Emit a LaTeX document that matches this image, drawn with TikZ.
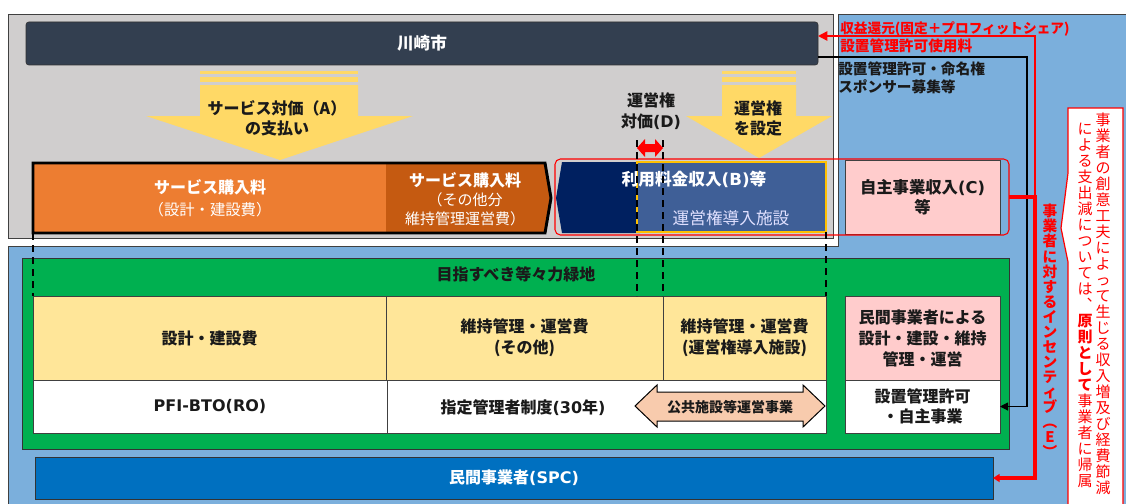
\documentclass[tikz,border=0pt]{standalone}
\usepackage{fontspec}
\setmainfont{Noto Sans CJK JP}
\newfontfamily\lat{DejaVu Sans}
\usetikzlibrary{arrows.meta}
\definecolor{graybg}{HTML}{D0CECE}
\definecolor{bluebg}{HTML}{7BAFDC}
\definecolor{citycol}{HTML}{333F50}
\definecolor{ylwarrow}{HTML}{FFD966}
\definecolor{orgL}{HTML}{ED7D31}
\definecolor{orgD}{HTML}{C55A11}
\definecolor{navyc}{HTML}{002060}
\definecolor{bboxc}{HTML}{3F5F97}
\definecolor{goldc}{HTML}{FFC000}
\definecolor{pinkc}{HTML}{FFCCCC}
\definecolor{greenc}{HTML}{00B050}
\definecolor{cellY}{HTML}{FFE699}
\definecolor{peach}{HTML}{F8CBAD}
\definecolor{spcblue}{HTML}{0070C0}
\definecolor{linegray}{HTML}{404040}
\definecolor{txt}{HTML}{1A1A1A}
\definecolor{redc}{HTML}{FF0000}
\newcommand\pxbox[7]{\node[#2, minimum width={(#5-#3)*0.75pt}, minimum height={(#6-#4)*0.75pt}, anchor=north west] (#1) at (#3,#4) {#7};}
\tikzset{
  bx/.style={inner sep=0pt, outer sep=0pt, align=center},
  tb/.style={font=\fontsize{12pt}{15.75pt}\selectfont\bfseries},
  cellbox/.style={bx, draw=linegray, line width=0.75pt, text=txt, tb},
  dashv/.style={draw=black, line width=1.5pt, dash pattern=on 5.5pt off 3.5pt},
  vcol/.style={align=center, inner sep=0pt, anchor=north, text=redc},
}
\begin{document}
\begin{tikzpicture}[x=0.75pt,y=-0.75pt]
\useasboundingbox (0,0) rectangle (1126,503);
% backgrounds
\draw[linegray, line width=0.75pt, fill=graybg] (8,15) rectangle (833,238);
\fill[bluebg] (838,15) -- (1140,15) -- (1140,520) -- (8,520) -- (8,246) -- (838,246) -- cycle;
\draw[linegray, line width=0.75pt] (1140,15) -- (838,15) -- (838,246) -- (8,246) -- (8,520);
% city bar
\pxbox{city}{bx, fill=citycol, draw=black!80, rounded corners=2pt, text=white, font=\fontsize{12.5pt}{14pt}\selectfont\bfseries}{26}{22}{818}{65}{川崎市}
% yellow arrow A
\fill[ylwarrow] (200,71) rectangle (358,73.5);
\fill[ylwarrow] (200,77) rectangle (358,82);
\fill[ylwarrow] (200,85) -- (358,85) -- (358,116) -- (413,116) -- (280,160) -- (146,116) -- (200,116) -- cycle;
\node[bx, text=txt, font=\fontsize{12pt}{15pt}\selectfont\bfseries] (payA) at (277,118) {サービス対価（A）\\の支払い};
% yellow arrow right
\fill[ylwarrow] (722,71) rectangle (796,73.5);
\fill[ylwarrow] (722,77) rectangle (796,82);
\fill[ylwarrow] (722,85) -- (796,85) -- (796,116) -- (832,116) -- (759,158) -- (686,116) -- (722,116) -- cycle;
\node[bx, text=txt, font=\fontsize{12pt}{15pt}\selectfont\bfseries] (setR) at (758,118) {運営権\\を設定};
% D label and arrow
\node[bx, text=txt, font=\fontsize{12pt}{15.5pt}\selectfont\bfseries] (labD) at (651,111) {運営権\\対価{\lat(D)}};
\fill[redc] (637,148) -- (645,139) -- (645,144) -- (655,144) -- (655,139) -- (663,148) -- (655,157) -- (655,152) -- (645,152) -- (645,157) -- cycle;
% orange bar
\fill[orgL] (33,163) rectangle (386,233);
\fill[orgD] (386,163) -- (545,163) -- (551,198) -- (545,233) -- (386,233) -- cycle;
\draw[black, line width=2.2pt, line join=miter] (33,163) -- (545,163) -- (551,198) -- (545,233) -- (33,233) -- cycle;
\node[bx, text=white, font=\fontsize{11.5pt}{16.5pt}\selectfont] (buyA) at (210,198) {{\fontsize{12pt}{16.5pt}\selectfont\bfseries サービス購入料}\\（設計・建設費）};
\node[bx, text=white, font=\fontsize{11.25pt}{14.25pt}\selectfont] (buyB) at (465,199) {{\fontsize{12pt}{14.25pt}\selectfont\bfseries サービス購入料}\\（その他分\\維持管理運営費）};
% navy chevron and B box
\fill[navyc] (562,162) -- (640,162) -- (640,233) -- (562,233) -- (556,198) -- cycle;
\pxbox{bbox}{bx, fill=bboxc, draw=goldc, line width=1.6pt}{637}{162}{826}{232}{}
\node[bx, text=white, font=\fontsize{12.5pt}{14pt}\selectfont\bfseries] (incB) at (694,179) {利用料金収入{\lat(B)}等};
\node[bx, text=white!88!blue, font=\fontsize{12.5pt}{14pt}\selectfont] (facB) at (731,218) {運営権導入施設};
% self business box
\pxbox{selfinc}{bx, fill=pinkc, draw=linegray, line width=0.75pt, text=txt, font=\fontsize{12.25pt}{15pt}\selectfont\bfseries}{845}{160}{1000}{234}{自主事業収入{\lat(C)}\\等}
% red rounded group
\pxbox{redgrp}{bx, draw=redc, line width=0.8pt, rounded corners=4pt}{555}{159}{1009}{235}{}
% right texts
\node[anchor=west, inner sep=0pt, text=redc, font=\fontsize{10.25pt}{12pt}\selectfont\bfseries] (rt1) at (840,29) {収益還元(固定＋プロフィットシェア)};
\node[anchor=west, inner sep=0pt, text=redc, font=\fontsize{11pt}{12pt}\selectfont\bfseries] (rt2) at (840,46) {設置管理許可使用料};
\node[anchor=west, inner sep=0pt, text=txt, font=\fontsize{11pt}{12pt}\selectfont\bfseries] (bt1) at (838,69) {設置管理許可・命名権};
\node[anchor=west, inner sep=0pt, text=txt, font=\fontsize{11pt}{12pt}\selectfont\bfseries] (bt2) at (838,87) {スポンサー募集等};
% green area
\pxbox{green}{bx, fill=greenc, draw=black!80, line width=0.75pt}{22}{258}{1009}{449}{}
\node[bx, text=txt, font=\fontsize{12pt}{14pt}\selectfont\bfseries] (goal) at (516,274) {目指すべき等々力緑地};
\pxbox{c1}{cellbox, fill=cellY}{33}{296}{386}{380}{設計・建設費}
\pxbox{c2}{cellbox, fill=cellY}{386}{296}{663}{380}{維持管理・運営費\\(その他)}
\pxbox{c3}{cellbox, fill=cellY}{663}{296}{826}{380}{維持管理・運営費\\(運営権導入施設)}
\pxbox{w1}{cellbox, fill=white}{33}{380}{387}{433}{\lat PFI-BTO(RO)}
\pxbox{w2}{cellbox, fill=white}{387}{380}{826}{433}{}
\node[bx, tb, text=txt] (desig) at (523,408) {指定管理者制度{\lat(30}年{\lat)}};
\fill[peach, draw=black, line width=0.75pt] (635,406) -- (657,385) -- (657,392) -- (803,392) -- (803,385) -- (825,406) -- (803,427) -- (803,421) -- (657,421) -- (657,427) -- cycle;
\node[bx, text=txt, font=\fontsize{10.5pt}{12pt}\selectfont\bfseries] (pubop) at (730,407) {公共施設等運営事業};
\pxbox{p1}{cellbox, fill=pinkc}{845}{296}{1000}{380}{民間事業者による\\設計・建設・維持\\管理・運営}
\pxbox{permit}{cellbox, fill=white, font=\fontsize{12pt}{15pt}\selectfont\bfseries}{845}{380}{1000}{433}{設置管理許可\\・自主事業}
% SPC
\pxbox{spc}{bx, fill=spcblue, draw=black!80, line width=0.75pt, text=white, font=\fontsize{12pt}{14pt}\selectfont\bfseries}{35}{457}{993}{499}{民間事業者{\lat(SPC)}}
% callout
\fill[white] (1068,108) -- (1123,108) -- (1123,510) -- (1068,510) -- (1068,262) -- (1061,228) -- (1068,173) -- cycle;
\draw[redc, line width=0.9pt] (1068,510) -- (1068,262) -- (1061,228) -- (1068,173) -- (1068,108) -- (1123,108) -- (1123,510);
\node[vcol, font=\fontsize{11.25pt}{12pt}\selectfont] (vright) at (1103,113) {事\\業\\者\\の\\創\\意\\工\\夫\\に\\よ\\っ\\て\\生\\じ\\る\\収\\入\\増\\及\\び\\経\\費\\節\\減};
\node[vcol, font=\fontsize{11.25pt}{12pt}\selectfont] (vleft) at (1085,123) {に\\よ\\る\\支\\出\\減\\に\\つ\\い\\て\\は\\︑\\\textbf{原}\\\textbf{則}\\\textbf{と}\\\textbf{し}\\\textbf{て}\\事\\業\\者\\に\\帰\\属};
\node[vcol, font=\fontsize{11pt}{11.3pt}\selectfont\bfseries] (vinc) at (1050,204) {事\\業\\者\\に\\対\\す\\る\\イ\\ン\\セ\\ン\\テ\\ィ\\ブ\\︵\\E\\︶};
% dashed lines
\coordinate (d1t) at (33,233); \coordinate (d1b) at (33,296);
\coordinate (d2t) at (637,140); \coordinate (d2b) at (637,296);
\coordinate (d3t) at (663,140); \coordinate (d3b) at (663,296);
\coordinate (d4t) at (826,232); \coordinate (d4b) at (826,296);
\draw[dashv] (d1t) -- (d1b);
\draw[dashv] (d2t) -- (d2b);
\draw[dashv] (d3t) -- (d3b);
\draw[dashv] (d4t) -- (d4b);
% connectors
\coordinate (kt) at (1027,57);
\draw[black, line width=0.8pt, -{Triangle[length=6pt,width=6pt]}] (kt -| city.east) -- (kt) |- (permit.east);
\coordinate (rj) at (1035,197);
\coordinate (rt) at (1035,36);
\draw[redc, line width=1.1pt, -{Triangle[length=7pt,width=7pt]}] (rj) -- (rt) -- (rt -| city.east);
\draw[redc, line width=2.4pt, -{Triangle[length=5pt,width=6pt]}] (redgrp.east) -- (rj) |- (spc.east);
\end{tikzpicture}
\end{document}
